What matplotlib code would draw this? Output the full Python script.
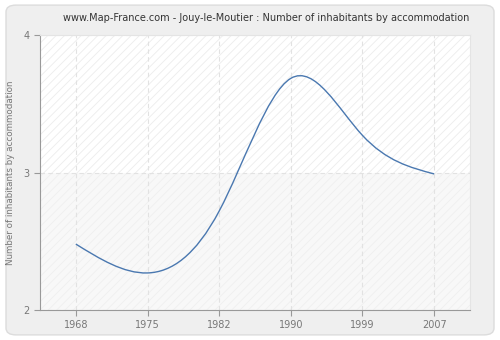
import numpy as np
import matplotlib
matplotlib.use("Agg")
import matplotlib.pyplot as plt
from matplotlib.path import Path
from matplotlib.patches import PathPatch, FancyBboxPatch

# census years and average number of inhabitants per accommodation
years = ["1968", "1975", "1982", "1990", "1999", "2007"]
inhabitants = [2.48, 2.27, 2.72, 3.685, 3.27, 2.99]

title = "www.Map-France.com - Jouy-le-Moutier : Number of inhabitants by accommodation"
ylabel = "Number of inhabitants by accommodation"

fig = plt.figure(figsize=(5, 3.4), dpi=100)
fig.patch.set_facecolor("white")

# rounded grey frame behind everything
frame = FancyBboxPatch((0.012, 0.015), 0.976, 0.97, boxstyle="round,pad=0,rounding_size=0.02",
                       transform=fig.transFigure, facecolor="#efefef", edgecolor="#dcdcdc",
                       linewidth=1.0, zorder=-5)
fig.patches.append(frame)

ax = fig.add_axes([0.08, 0.088, 0.86, 0.809])
ax.set_zorder(2)
ax.set_facecolor("white")

ax.set_xlim(-0.5, len(years) - 0.5)
ax.set_ylim(2, 4)

# hatched bands (upper band white, lower band slightly grey)
plt.rcParams["hatch.linewidth"] = 0.6
ax.axhspan(3, 4, facecolor="white", edgecolor="#ececec", hatch="////", linewidth=0, zorder=0)
ax.axhspan(2, 3, facecolor="#f8f8f8", edgecolor="#efefef", hatch="////", linewidth=0, zorder=0)

# smooth line: natural cubic spline tangents, drawn as Bezier segments
x = np.arange(len(years), dtype=float)
y = np.array(inhabitants)
n = len(y)
A = np.zeros((n, n))
b = np.zeros(n)
A[0, 0], A[0, 1], b[0] = 2, 1, 3 * (y[1] - y[0])
A[-1, -2], A[-1, -1], b[-1] = 1, 2, 3 * (y[-1] - y[-2])
for i in range(1, n - 1):
    A[i, i - 1], A[i, i], A[i, i + 1] = 1, 4, 1
    b[i] = 3 * (y[i + 1] - y[i - 1])
m = np.linalg.solve(A, b)

verts = [(x[0], y[0])]
codes = [Path.MOVETO]
for i in range(n - 1):
    verts += [(x[i] + 1 / 3, y[i] + m[i] / 3),
              (x[i + 1] - 1 / 3, y[i + 1] - m[i + 1] / 3),
              (x[i + 1], y[i + 1])]
    codes += [Path.CURVE4] * 3
ax.add_patch(PathPatch(Path(verts, codes), fill=False, edgecolor="#4a78b0", linewidth=1.0, zorder=3))

ax.set_xticks(x)
ax.set_xticklabels(years)
ax.set_yticks([2, 3, 4])

ax.grid(True, linestyle=(0, (4, 3)), color="#e2e2e2", linewidth=0.8, zorder=1)
ax.set_axisbelow(True)

for side in ["left", "bottom"]:
    ax.spines[side].set_color("#999999")
for side in ["top", "right"]:
    ax.spines[side].set_color("#e4e4e4")

ax.tick_params(axis="both", colors="#999999", labelcolor="#777777", labelsize=7,
               length=4, direction="out")
ax.set_ylabel(ylabel, fontsize=6.3, color="#777777", labelpad=6)
ax.set_title(title, fontsize=7.0, color="#333333", pad=10, x=0.525)

fig.savefig("out.png", dpi=100, facecolor=fig.get_facecolor())
